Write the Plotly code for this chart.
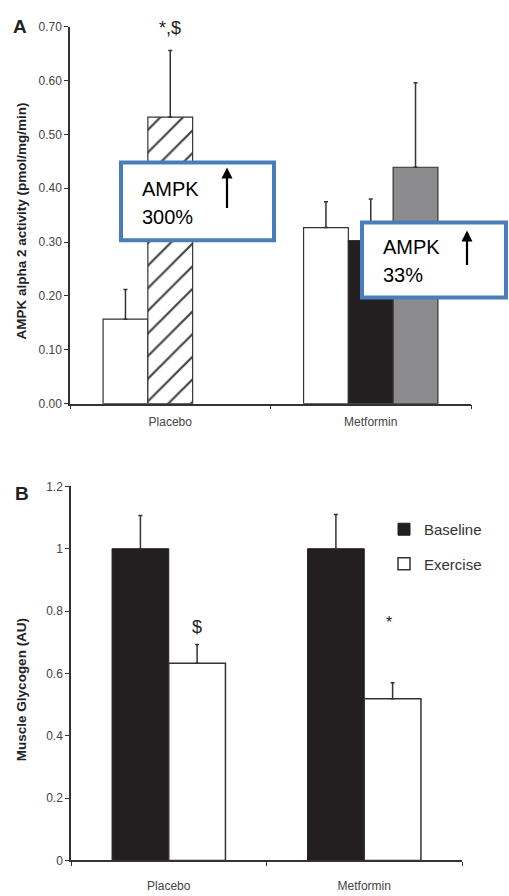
import plotly.graph_objects as go

W, H = 509, 896
def px(x): return x / W
def py(y): return 1 - y / H

# ---------- data ----------
groups = ["Placebo", "Metformin"]
# Panel A (AMPK alpha 2 activity)
a_s1 = [0.157, 0.327]          # white bars
a_s1_err = [0.055, 0.048]
a_s2 = [0.532, 0.303]          # hatched (placebo) / black (metformin)
a_s2_err = [0.124, 0.077]
a_s3 = [None, 0.439]           # gray bar (metformin only)
a_s3_err = [0, 0.157]
a_ticks = [0.0, 0.1, 0.2, 0.3, 0.4, 0.5, 0.6, 0.7]
# Panel B (Muscle glycogen)
b_baseline = [1.0, 1.0]
b_baseline_err = [0.107, 0.11]
b_exercise = [0.633, 0.519]
b_exercise_err = [0.06, 0.051]
b_ticks = [0, 0.2, 0.4, 0.6, 0.8, 1.0, 1.2]
b_ticktext = ["0", "0.2", "0.4", "0.6", "0.8", "1", "1.2"]

EDGE = "#333333"
BLACK = "#231f20"
GRAY = "#8c8c8e"
SANS = "Liberation Sans, Arial"
TICKFONT = dict(family=SANS, size=12, color="#444")

def err(arr):
    return dict(type="data", array=arr, arrayminus=[0]*len(arr), symmetric=False,
                color=EDGE, thickness=1.5, width=2)

fig = go.Figure()

# Panel A traces
fig.add_trace(go.Bar(x=groups, y=a_s1, error_y=err(a_s1_err),
                     marker=dict(color="white", line=dict(color=EDGE, width=1.2)),
                     xaxis="x", yaxis="y", showlegend=False))
fig.add_trace(go.Bar(x=groups, y=a_s2, error_y=err(a_s2_err),
                     marker=dict(color=["white", BLACK], line=dict(color=EDGE, width=1.2),
                                 pattern=dict(shape=["/", ""], fgcolor="#1a1a1a", fgopacity=1,
                                              size=16, solidity=0.14)),
                     xaxis="x", yaxis="y", showlegend=False))
fig.add_trace(go.Bar(x=groups, y=a_s3, error_y=err(a_s3_err),
                     marker=dict(color=GRAY, line=dict(color=EDGE, width=1.2)),
                     xaxis="x", yaxis="y", showlegend=False))

# Panel B traces (narrower bars than panel A)
BW = 0.29
fig.add_trace(go.Bar(x=groups, y=b_baseline, error_y=err(b_baseline_err), name="Baseline",
                     width=BW, offset=-BW, legendgroup="g1",
                     marker=dict(color=BLACK, line=dict(color=BLACK, width=1)),
                     xaxis="x2", yaxis="y2", showlegend=True))
fig.add_trace(go.Bar(x=groups, y=b_exercise, error_y=err(b_exercise_err), name="Exercise",
                     width=BW, offset=0, legendgroup="g2",
                     marker=dict(color="white", line=dict(color=EDGE, width=1.5)),
                     xaxis="x2", yaxis="y2", showlegend=True))

axis_common = dict(showgrid=False, zeroline=False, showline=True, linecolor=EDGE, linewidth=1.5,
                   ticks="outside", tickcolor=EDGE, ticklen=4, tickfont=TICKFONT)

fig.update_layout(
    width=W, height=H, margin=dict(l=0, r=0, t=0, b=0),
    paper_bgcolor="white", plot_bgcolor="white",
    barmode="group", bargap=0.33, bargroupgap=0,
    xaxis=dict(domain=[px(70), px(471)], anchor="y", tickson="boundaries",
               ticklabelstandoff=6, **axis_common),
    yaxis=dict(domain=[py(403), py(20)], anchor="x", range=[0, 0.70], tickvals=a_ticks,
               tickformat=".2f", **axis_common),
    xaxis2=dict(domain=[px(71), px(462)], anchor="y2", tickson="boundaries",
                ticklabelstandoff=13, **axis_common),
    yaxis2=dict(domain=[py(867), py(487)], anchor="x2", range=[0, 1.2], tickvals=b_ticks,
                ticktext=b_ticktext, **axis_common),
    legend=dict(x=px(384), y=py(514), xanchor="left", yanchor="top",
                font=dict(family=SANS, size=15, color="#333"), traceorder="grouped",
                bgcolor="rgba(0,0,0,0)", tracegroupgap=12, itemwidth=30),
    font=dict(family=SANS),
)

BLUE = "#4a7ebb"
shapes = [
    dict(type="rect", xref="paper", yref="paper", x0=px(121), x1=px(274), y0=py(237), y1=py(158),
         fillcolor="white", line=dict(color=BLUE, width=4), layer="above"),
    dict(type="rect", xref="paper", yref="paper", x0=px(362), x1=px(506), y0=py(295), y1=py(219),
         fillcolor="white", line=dict(color=BLUE, width=4), layer="above"),
]
fig.update_layout(shapes=shapes)

BIG = dict(family=SANS, size=20, color="black")
ann = [
    dict(text="<b>A</b>", x=px(20), y=py(20), font=dict(family=SANS, size=19, color="#222")),
    dict(text="<b>B</b>", x=px(22), y=py(494), font=dict(family=SANS, size=19, color="#222")),
    dict(text="<b>AMPK alpha 2 activity (pmol/mg/min)</b>", x=px(22), y=py(218), textangle=-90,
         font=dict(family=SANS, size=13.5, color="#222")),
    dict(text="<b>Muscle Glycogen (AU)</b>", x=px(21), y=py(694), textangle=-90,
         font=dict(family=SANS, size=13.5, color="#222")),
    dict(text="*,$", x=px(170), y=py(21), font=dict(family=SANS, size=18, color="#222")),
    dict(text="$", x=px(197), y=py(630), font=dict(family=SANS, size=18, color="#222")),
    dict(text="*", x=px(389), y=py(625), font=dict(family=SANS, size=16, color="#222")),
    dict(text="AMPK", x=px(140), y=py(185), xanchor="left", font=BIG),
    dict(text="300%", x=px(140), y=py(213), xanchor="left", font=BIG),
    dict(text="AMPK", x=px(381), y=py(244), xanchor="left", font=BIG),
    dict(text="33%", x=px(381), y=py(272), xanchor="left", font=BIG),
]
for a in ann:
    a.update(xref="paper", yref="paper", showarrow=False)
    a.setdefault("xanchor", "center")
    a["yanchor"] = "middle"
arrows = [
    dict(x=px(227), y=py(163), ax=0, ay=42),
    dict(x=px(467), y=py(227), ax=0, ay=36),
]
for a in arrows:
    a.update(xref="paper", yref="paper", showarrow=True, text="", arrowhead=2, arrowsize=1,
             arrowwidth=2.2, arrowcolor="black", axref="pixel", ayref="pixel")
fig.update_layout(annotations=ann + arrows)

fig.write_html("out.html")
